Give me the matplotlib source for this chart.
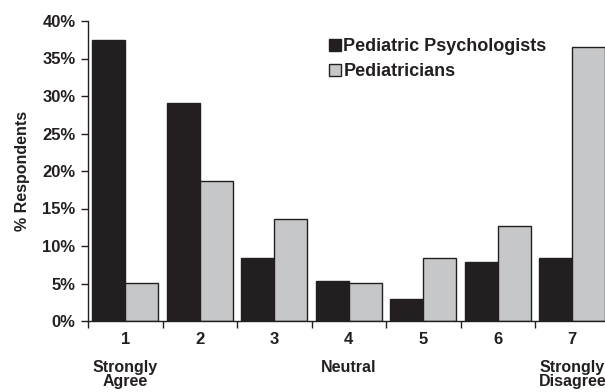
import numpy as np
import matplotlib.pyplot as plt

plt.rcParams['font.family'] = ['Liberation Sans', 'DejaVu Sans']
plt.rcParams['font.weight'] = 'bold'

# Data
categories = ['1', '2', '3', '4', '5', '6', '7']
psychologists = [37.5, 29.1, 8.4, 5.3, 2.9, 7.9, 8.4]
pediatricians = [5.1, 18.7, 13.6, 5.1, 8.4, 12.7, 36.5]
anchor_labels = {0: 'Strongly\nAgree', 3: 'Neutral', 6: 'Strongly\nDisagree'}

dark = '#231f20'
grey = '#c6c7c8'

fig = plt.figure(figsize=(6.05, 3.92), dpi=100)
ax = fig.add_axes([88 / 605, 71 / 392, 521.5 / 605, 300 / 392])

x = np.arange(len(categories))
w = 0.44
ax.bar(x - w / 2, psychologists, w, color=dark, edgecolor=dark, linewidth=1,
       label='Pediatric Psychologists')
ax.bar(x + w / 2, pediatricians, w, color=grey, edgecolor=dark, linewidth=1,
       label='Pediatricians')

ax.set_xlim(-0.5, len(categories) - 0.5)
ax.set_ylim(0, 40)
ax.set_yticks(range(0, 41, 5))
ax.set_yticklabels([f'{v}%' for v in range(0, 41, 5)], fontsize=12, fontweight='bold', color=dark)

ax.set_xticks(x)
ax.set_xticklabels(categories, fontsize=12, fontweight='bold', color=dark)
ax.set_xticks(np.arange(-0.5, len(categories)), minor=True)
ax.tick_params(axis='x', which='major', length=0, pad=8)
ax.tick_params(axis='x', which='minor', length=5, direction='out', width=1, color=dark)
ax.tick_params(axis='y', length=5, direction='out', width=1, color=dark, pad=4)

for i, txt in anchor_labels.items():
    ax.annotate(txt, xy=(x[i], 0), xycoords=('data', 'axes fraction'),
                xytext=(0, -28), textcoords='offset points', ha='center', va='top',
                fontsize=11.5, fontweight='bold', color=dark, linespacing=0.95,
                annotation_clip=False)

for s in ['top', 'right']:
    ax.spines[s].set_visible(False)
for s in ['left', 'bottom']:
    ax.spines[s].set_color(dark)
    ax.spines[s].set_linewidth(1)

ax.set_ylabel('% Respondents', fontsize=11.5, fontweight='bold', color=dark, labelpad=9)

ax.legend(loc='upper left', bbox_to_anchor=(0.462, 0.942), frameon=False,
          prop={'size': 13, 'weight': 'bold'}, handlelength=0.65, handleheight=0.65,
          handletextpad=0.15, labelspacing=0.42, borderpad=0, borderaxespad=0,
          labelcolor=dark)

fig.savefig('out.png', dpi=100)
